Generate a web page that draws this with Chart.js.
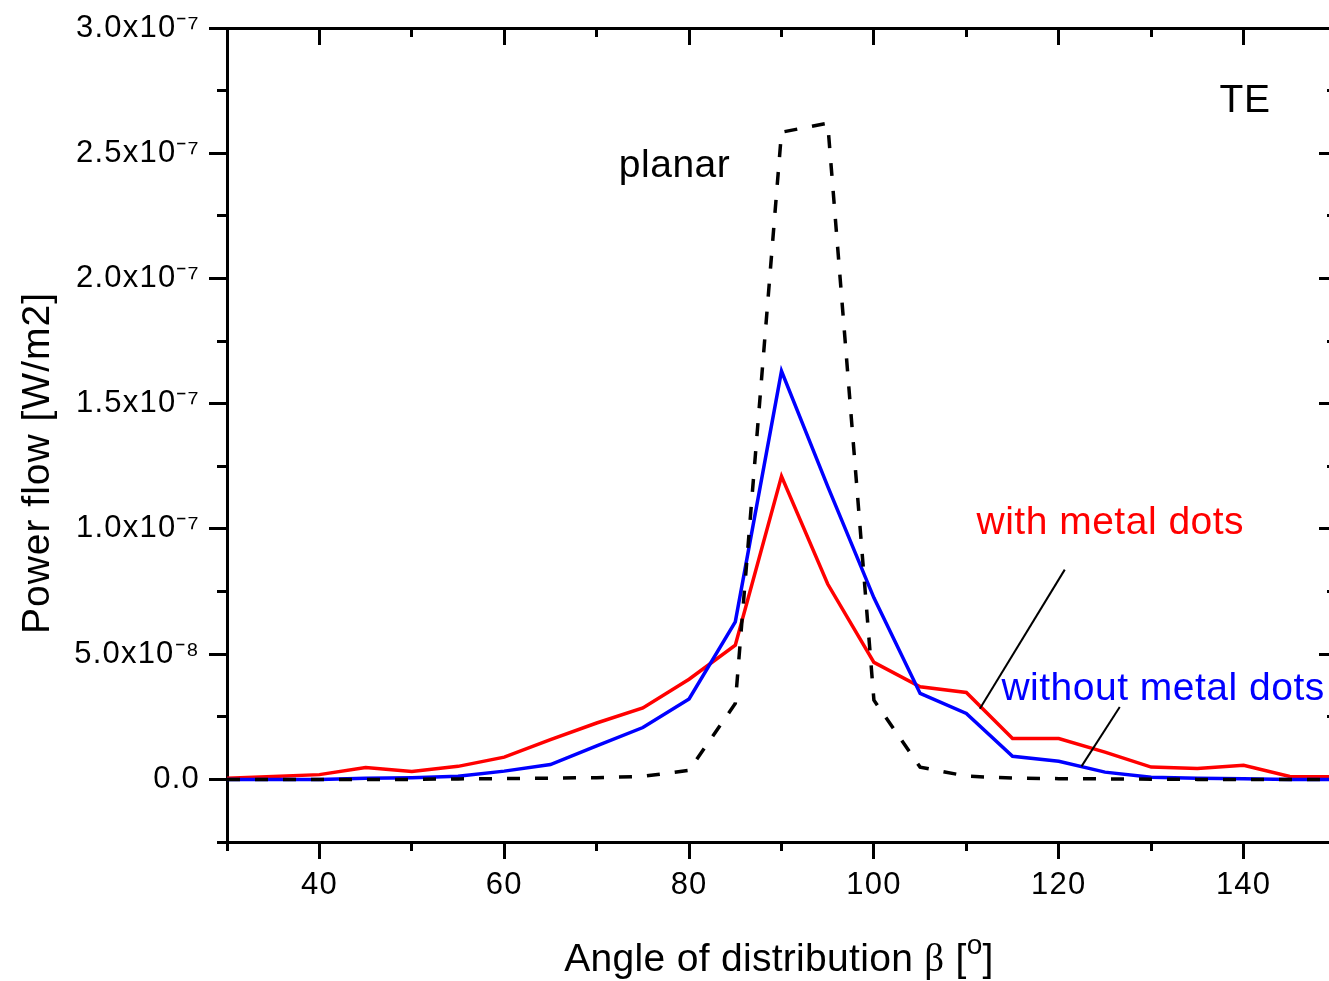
<!DOCTYPE html>
<html><head><meta charset="utf-8">
<script src="https://cdn.jsdelivr.net/npm/chart.js@4/dist/chart.umd.min.js"></script>
<style>html,body{margin:0;padding:0;overflow:hidden;background:#fff}canvas{display:block}</style>
</head><body>
<canvas id="c" width="1346" height="981"></canvas>
<script>
// ---------- data (power flow in W/m2) ----------
const angles = [30,35,40,45,50,55,60,65,70,75,80,85,90,95,100,105,110,115,120,125,130,135,140,145,150];
const withMetalDots = [0.5e-9,1.2e-9,1.9e-9,4.7e-9,3.2e-9,5.2e-9,8.9e-9,15.9e-9,22.5e-9,28.5e-9,40.0e-9,53.6e-9,121e-9,78e-9,46.7e-9,37e-9,34.7e-9,16.3e-9,16.3e-9,10.9e-9,4.9e-9,4.3e-9,5.6e-9,1.2e-9,1.1e-9];
const withoutMetalDots = [0,0,0,0.5e-9,0.7e-9,1.3e-9,3.3e-9,5.9e-9,13.4e-9,20.7e-9,32.1e-9,62.9e-9,163e-9,117e-9,72.5e-9,34.3e-9,26.3e-9,9.2e-9,7.2e-9,2.9e-9,0.9e-9,0.5e-9,0.3e-9,0,0];
const planar = [0,0,0,0,0,0.2e-9,0.3e-9,0.5e-9,0.7e-9,1.2e-9,3.6e-9,30.3e-9,258.4e-9,262e-9,31.6e-9,4.9e-9,1.3e-9,0.5e-9,0.3e-9,0.2e-9,0.1e-9,0,0,0,0];

const xTickValues = [40,60,80,100,120,140];
const xTickLabels = ['40','60','80','100','120','140'];
const yTickLabels = ['0.0','5.0x10\u207B\u2078','1.0x10\u207B\u2077','1.5x10\u207B\u2077','2.0x10\u207B\u2077','2.5x10\u207B\u2077','3.0x10\u207B\u2077'];
const yTitle = 'Power flow [W/m2]';
const xTitleParts = ['Angle of distribution ', '\u03B2', ' [', 'o', ']'];

// ---------- annotations (in data coordinates) ----------
const notes = [
  {text:'planar', x:72.4, y:2.404e-7, color:'#000000'},
  {text:'TE', x:137.4, y:2.665e-7, color:'#000000'},
  {text:'with metal dots', x:111.1, y:0.981e-7, color:'#ff0000'},
  {text:'without metal dots', x:113.8, y:0.315e-7, color:'#0000ff'}
];
const leaders = [
  {x1:120.65, y1:0.8375e-7, x2:111.46, y2:0.2823e-7},
  {x1:126.6, y1:0.2887e-7, x2:122.46, y2:0.0519e-7}
];

const SANS = "'Liberation Sans', Arial, Helvetica, sans-serif";
const SERIF = "'Liberation Serif', 'Times New Roman', serif";
const STEP_Y = 2.5e-8;
const isMajorX = v => xTickValues.includes(v);
const isMajorY = v => { const k = Math.round(v / STEP_Y); return k >= 0 && k % 2 === 0; };
const tickCol = pred => c => (c.tick && pred(c.tick.value)) ? '#000' : 'rgba(0,0,0,0)';

const decor = {
  id: 'decor',
  beforeDraw(chart) { chart.ctx.letterSpacing = '1.2px'; },
  beforeDatasetsDraw(chart) { chart.ctx.letterSpacing = '0px'; },
  afterDraw(chart) {
    const ctx = chart.ctx, xs = chart.scales.x, ys = chart.scales.y;
    ctx.save();
    ctx.letterSpacing = '0.5px';
    ctx.textAlign = 'left';
    ctx.textBaseline = 'alphabetic';
    ctx.font = '39px ' + SANS;
    notes.forEach(n => {
      ctx.fillStyle = n.color;
      ctx.fillText(n.text, xs.getPixelForValue(n.x), ys.getPixelForValue(n.y));
    });
    ctx.strokeStyle = '#000';
    ctx.lineWidth = 2;
    leaders.forEach(l => {
      ctx.beginPath();
      ctx.moveTo(xs.getPixelForValue(l.x1), ys.getPixelForValue(l.y1));
      ctx.lineTo(xs.getPixelForValue(l.x2), ys.getPixelForValue(l.y2));
      ctx.stroke();
    });
    // y axis title
    ctx.fillStyle = '#000';
    ctx.save();
    ctx.translate(48.5, 463);
    ctx.rotate(-Math.PI / 2);
    ctx.textAlign = 'center';
    ctx.letterSpacing = '1px';
    ctx.fillText(yTitle, 0, 0);
    ctx.restore();
    // x axis title
    ctx.letterSpacing = '0.3px';
    const fonts = ['39px ' + SANS, '39px ' + SERIF, '39px ' + SANS, '28px ' + SANS, '39px ' + SANS];
    const dys = [0, 0, 0, -17, 0];
    let total = 0;
    const widths = xTitleParts.map((t, i) => { ctx.font = fonts[i]; const w = ctx.measureText(t).width; total += w; return w; });
    let x = 779 - total / 2;
    const base = 970.5;
    xTitleParts.forEach((t, i) => {
      ctx.font = fonts[i];
      ctx.fillText(t, x, base + dys[i]);
      x += widths[i];
    });
    ctx.restore();
  }
};

const common = { type: 'linear', min: 30, max: 150 };
const commonY = { type: 'linear', min: -2.5e-8, max: 3e-7 };

new Chart(document.getElementById('c'), {
  type: 'line',
  data: {
    labels: angles,
    datasets: [
      {label:'planar', data: angles.map((a,i)=>({x:a, y:planar[i]})), borderColor:'#000000', borderWidth:3.5, borderDash:[13,15], pointRadius:0, tension:0, fill:false, xAxisID:'x', yAxisID:'y'},
      {label:'without metal dots', data: angles.map((a,i)=>({x:a, y:withoutMetalDots[i]})), borderColor:'#0000ff', borderWidth:3.5, pointRadius:0, tension:0, fill:false, xAxisID:'x', yAxisID:'y'},
      {label:'with metal dots', data: angles.map((a,i)=>({x:a, y:withMetalDots[i]})), borderColor:'#ff0000', borderWidth:3.5, pointRadius:0, tension:0, fill:false, xAxisID:'x', yAxisID:'y'}
    ]
  },
  options: {
    responsive: false,
    animation: false,
    devicePixelRatio: 1,
    layout: { padding: { left: 0, right: 10, top: 28, bottom: 0 } },
    plugins: { legend: { display: false }, tooltip: { enabled: false } },
    scales: {
      x: { ...common, position: 'bottom', weight: 0,
        afterFit: s => { s.height = 139; },
        ticks: { stepSize: 10, autoSkip: false, maxRotation: 0, minRotation: 0, padding: 8, color: '#000', font: { family: SANS, size: 31 },
          callback: v => { const i = xTickValues.indexOf(v); return i >= 0 ? xTickLabels[i] : ''; } },
        grid: { drawOnChartArea: false, tickLength: 17, tickWidth: 3, lineWidth: 3, tickColor: tickCol(isMajorX) },
        border: { display: true, color: '#000', width: 3 } },
      xMinor: { ...common, position: 'bottom', weight: -1,
        afterFit: s => { s.height = 0; },
        ticks: { display: false, stepSize: 10, autoSkip: false },
        grid: { drawOnChartArea: false, tickLength: 9, tickWidth: 3, tickColor: '#000' },
        border: { display: false } },
      xTop: { ...common, position: 'top', weight: 0,
        afterFit: s => { s.height = 0; },
        ticks: { display: false, stepSize: 10, autoSkip: false },
        grid: { drawOnChartArea: false, tickLength: -17, tickWidth: 3, tickColor: tickCol(isMajorX) },
        border: { display: true, color: '#000', width: 3 } },
      xTopMinor: { ...common, position: 'top', weight: -1,
        afterFit: s => { s.height = 0; },
        ticks: { display: false, stepSize: 10, autoSkip: false },
        grid: { drawOnChartArea: false, tickLength: -9, tickWidth: 3, tickColor: '#000' },
        border: { display: false } },
      y: { ...commonY, position: 'left', weight: 0,
        afterFit: s => { s.width = 227; },
        ticks: { stepSize: STEP_Y, autoSkip: false, padding: 9, color: '#000', font: { family: SANS, size: 31 },
          callback: v => { const k = Math.round(v / STEP_Y); return (k >= 0 && k % 2 === 0) ? yTickLabels[k / 2] : ''; } },
        grid: { drawOnChartArea: false, tickLength: 18, tickWidth: 3, lineWidth: 3, tickColor: tickCol(isMajorY) },
        border: { display: true, color: '#000', width: 3 } },
      yMinor: { ...commonY, position: 'left', weight: -1,
        afterFit: s => { s.width = 0; },
        ticks: { display: false, stepSize: STEP_Y, autoSkip: false },
        grid: { drawOnChartArea: false, tickLength: 10, tickWidth: 3, tickColor: '#000' },
        border: { display: false } },
      yRight: { ...commonY, position: 'right', weight: 0,
        afterFit: s => { s.width = 0; },
        ticks: { display: false, stepSize: STEP_Y, autoSkip: false },
        grid: { drawOnChartArea: false, tickLength: -17, tickWidth: 3, tickColor: tickCol(isMajorY) },
        border: { display: true, color: '#000', width: 3 } },
      yRightMinor: { ...commonY, position: 'right', weight: -1,
        afterFit: s => { s.width = 0; },
        ticks: { display: false, stepSize: STEP_Y, autoSkip: false },
        grid: { drawOnChartArea: false, tickLength: -9, tickWidth: 3, tickColor: '#000' },
        border: { display: false } }
    }
  },
  plugins: [decor]
});
</script>
</body></html>
